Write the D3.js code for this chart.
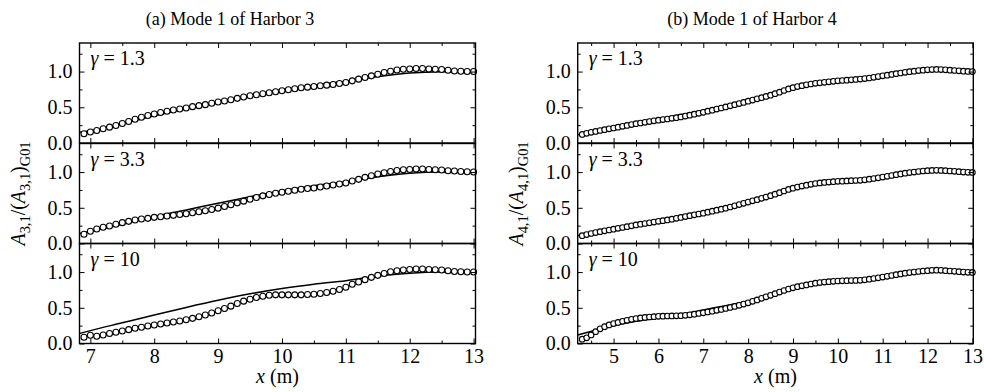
<!DOCTYPE html>
<html><head><meta charset="utf-8">
<script src="https://cdn.jsdelivr.net/npm/d3@7"></script>
<style>
body{margin:0;background:#fff}
svg{display:block}
text{font-family:"Liberation Serif","Times New Roman",serif;fill:#000}
</style>
</head><body><svg id="c" width="984" height="392"></svg>
<script>
// ---------- DATA ----------
const titles = ["(a) Mode 1 of Harbor 3", "(b) Mode 1 of Harbor 4"];
const gammaLabels = ["1.3", "3.3", "10"];
const yTicks = [0, 0.5, 1.0];
const yMinor = [0.25, 0.75, 1.25];
const xTicksA = [7, 8, 9, 10, 11, 12, 13];
const xTicksB = [5, 6, 7, 8, 9, 10, 11, 12, 13];

// measured points (circles), Harbor 3
const xA = [6.9,7.0,7.1,7.2,7.3,7.4,7.5,7.6,7.7,7.8,7.9,8.0,8.1,8.2,8.3,8.4,8.5,8.6,8.7,8.8,8.9,9.0,9.1,9.2,9.3,9.4,9.5,9.6,9.7,9.8,9.9,10.0,10.1,10.2,10.3,10.4,10.5,10.6,10.7,10.8,10.9,11.0,11.1,11.2,11.3,11.4,11.5,11.6,11.7,11.8,11.9,12.0,12.1,12.2,12.3,12.4,12.5,12.6,12.7,12.8,12.9,13.0];
const a1 = [0.13,0.153,0.176,0.199,0.222,0.245,0.273,0.301,0.333,0.361,0.384,0.407,0.426,0.444,0.463,0.477,0.491,0.509,0.523,0.537,0.556,0.574,0.588,0.606,0.625,0.644,0.662,0.676,0.69,0.704,0.718,0.731,0.745,0.759,0.773,0.782,0.792,0.801,0.81,0.819,0.833,0.847,0.87,0.894,0.917,0.94,0.963,0.986,1.005,1.023,1.032,1.037,1.042,1.042,1.037,1.032,1.028,1.019,1.009,1.005,1.0,1.0];
const a2 = [0.13,0.171,0.204,0.227,0.245,0.269,0.292,0.31,0.329,0.343,0.352,0.366,0.375,0.384,0.394,0.407,0.417,0.431,0.444,0.458,0.477,0.495,0.519,0.542,0.569,0.593,0.62,0.644,0.667,0.685,0.704,0.718,0.731,0.745,0.759,0.769,0.778,0.792,0.806,0.819,0.833,0.847,0.875,0.898,0.926,0.949,0.972,0.991,1.009,1.023,1.032,1.037,1.042,1.042,1.037,1.032,1.028,1.019,1.014,1.009,1.005,1.0];
const a3 = [0.088,0.116,0.102,0.12,0.139,0.157,0.176,0.194,0.213,0.227,0.245,0.259,0.273,0.287,0.301,0.315,0.333,0.352,0.375,0.398,0.426,0.458,0.491,0.523,0.56,0.593,0.62,0.644,0.662,0.676,0.681,0.681,0.681,0.681,0.681,0.685,0.69,0.699,0.713,0.731,0.755,0.787,0.829,0.861,0.894,0.926,0.954,0.981,1.005,1.019,1.028,1.037,1.042,1.042,1.037,1.032,1.028,1.019,1.009,1.005,1.0,1.0];

// measured points (circles), Harbor 4
const xB = [4.3,4.4,4.5,4.6,4.7,4.8,4.9,5.0,5.1,5.2,5.3,5.4,5.5,5.6,5.7,5.8,5.9,6.0,6.1,6.2,6.3,6.4,6.5,6.6,6.7,6.8,6.9,7.0,7.1,7.2,7.3,7.4,7.5,7.6,7.7,7.8,7.9,8.0,8.1,8.2,8.3,8.4,8.5,8.6,8.7,8.8,8.9,9.0,9.1,9.2,9.3,9.4,9.5,9.6,9.7,9.8,9.9,10.0,10.1,10.2,10.3,10.4,10.5,10.6,10.7,10.8,10.9,11.0,11.1,11.2,11.3,11.4,11.5,11.6,11.7,11.8,11.9,12.0,12.1,12.2,12.3,12.4,12.5,12.6,12.7,12.8,12.9,13.0];
const b1 = [0.12,0.135,0.15,0.162,0.175,0.187,0.198,0.21,0.222,0.234,0.246,0.258,0.27,0.28,0.29,0.30,0.31,0.32,0.328,0.336,0.345,0.355,0.365,0.377,0.39,0.403,0.416,0.43,0.445,0.46,0.475,0.49,0.505,0.52,0.536,0.552,0.568,0.585,0.601,0.618,0.635,0.652,0.67,0.69,0.712,0.735,0.757,0.775,0.79,0.803,0.815,0.826,0.835,0.843,0.85,0.856,0.863,0.87,0.875,0.88,0.885,0.89,0.895,0.902,0.91,0.92,0.93,0.94,0.95,0.96,0.97,0.98,0.99,0.998,1.006,1.014,1.02,1.025,1.028,1.03,1.028,1.025,1.02,1.015,1.01,1.005,1.002,1.0];
const b2 = [0.11,0.125,0.14,0.153,0.165,0.177,0.189,0.20,0.212,0.224,0.236,0.248,0.26,0.27,0.28,0.29,0.30,0.31,0.32,0.33,0.34,0.352,0.365,0.377,0.389,0.401,0.413,0.425,0.439,0.453,0.467,0.481,0.495,0.511,0.528,0.545,0.562,0.58,0.597,0.614,0.632,0.65,0.67,0.69,0.712,0.735,0.757,0.775,0.79,0.804,0.817,0.829,0.84,0.848,0.855,0.86,0.865,0.87,0.873,0.876,0.879,0.882,0.885,0.892,0.9,0.91,0.92,0.93,0.941,0.952,0.963,0.974,0.985,0.993,1.0,1.008,1.015,1.02,1.023,1.025,1.023,1.019,1.015,1.01,1.005,1.0,0.997,0.995];
const b3 = [0.06,0.08,0.12,0.165,0.205,0.235,0.26,0.28,0.295,0.31,0.325,0.338,0.35,0.358,0.365,0.371,0.376,0.38,0.383,0.385,0.386,0.388,0.39,0.395,0.401,0.41,0.42,0.43,0.441,0.453,0.465,0.477,0.49,0.504,0.519,0.535,0.552,0.57,0.59,0.61,0.632,0.654,0.675,0.697,0.72,0.742,0.763,0.78,0.795,0.808,0.82,0.833,0.845,0.853,0.86,0.866,0.871,0.875,0.877,0.879,0.881,0.883,0.885,0.892,0.9,0.91,0.92,0.93,0.941,0.952,0.963,0.974,0.985,0.993,1.0,1.008,1.015,1.02,1.024,1.026,1.024,1.02,1.015,1.01,1.005,1.0,0.997,0.995];

// theoretical curves (solid lines)
const lxA = [6.83,7.0,7.5,8.0,8.5,9.0,9.5,10.0,10.5,11.0,11.5,12.0,12.5,13.03];
const la1 = [0.15,0.17,0.27,0.38,0.48,0.575,0.665,0.745,0.81,0.865,0.93,0.98,0.998,1.0];
const la2 = [0.14,0.17,0.27,0.38,0.47,0.565,0.655,0.74,0.81,0.865,0.935,0.985,1.0,1.0];
const la3 = [0.14,0.18,0.29,0.40,0.505,0.605,0.695,0.77,0.83,0.88,0.945,0.985,1.0,1.0];
const lxB = [4.2,5.0,5.5,6.0,6.5,7.0,7.5,8.0,8.5,9.0,9.5,10.0,10.5,11.0,11.5,12.0,12.5,13.02];
const lb1 = [0.115,0.21,0.275,0.335,0.395,0.46,0.525,0.595,0.675,0.775,0.835,0.87,0.895,0.94,0.985,1.015,1.01,1.0];
const lb2 = [0.11,0.205,0.27,0.33,0.39,0.45,0.52,0.59,0.67,0.77,0.835,0.865,0.885,0.93,0.98,1.01,1.01,1.0];
const lb3 = [0.12,0.25,0.31,0.36,0.41,0.47,0.53,0.59,0.67,0.77,0.84,0.87,0.885,0.93,0.98,1.01,1.01,1.0];

// ---------- LAYOUT ----------
const svg = d3.select('#c');
const panelTops = [43, 143.5, 243.5];
const panelH = 100;
const SERIF = '"Liberation Serif","Times New Roman",serif';
const cols = [
  {x0:79.5, x1:475.5, dom:[6.83,13.03], ticks:xTicksA, minor:d3.range(7.5,13,1),
   px:xA, pts:[a1,a2,a3], lx:lxA, lines:[la1,la2,la3], r:3.0, harbor:"3",
   title:titles[0], titleX:230, ylabX:25},
  {x0:577.7, x1:973.3, dom:[4.2,13.02], ticks:xTicksB, minor:d3.range(4.5,13,1),
   px:xB, pts:[b1,b2,b3], lx:lxB, lines:[lb1,lb2,lb3], r:2.8, harbor:"4",
   title:titles[1], titleX:752, ylabX:523}
];

const FS = 20;

cols.forEach((c, ci) => {
  const x = d3.scaleLinear().domain(c.dom).range([c.x0, c.x1]);
  const clipId = 'clip' + ci;
  svg.append('clipPath').attr('id', clipId).append('rect')
    .attr('x', c.x0).attr('y', panelTops[0]).attr('width', c.x1 - c.x0).attr('height', panelH * 3 + 0.5);

  panelTops.forEach((top, pi) => {
    const y = d3.scaleLinear().domain([0, 1.4]).range([top + panelH, top]);
    const g = svg.append('g');

    // theoretical line
    const lineData = c.lx.map((v, i) => [v, c.lines[pi][i]]);
    g.append('path').datum(lineData)
      .attr('clip-path', `url(#${clipId})`)
      .attr('fill', 'none').attr('stroke', '#000').attr('stroke-width', 1.5)
      .attr('d', d3.line().x(d => x(d[0])).y(d => y(d[1])).curve(d3.curveMonotoneX));

    // measured circles
    const ptData = c.px.map((v, i) => [v, c.pts[pi][i]]);
    g.append('g').selectAll('circle').data(ptData).join('circle')
      .attr('cx', d => x(d[0])).attr('cy', d => y(d[1])).attr('r', c.r)
      .attr('fill', '#fff').attr('stroke', '#000').attr('stroke-width', 1.1);

    // axes (inward ticks)
    const mk = (axis, tx, ty) => {
      const a = g.append('g').attr('transform', `translate(${tx},${ty})`).call(axis);
      a.attr('font-family', SERIF);
      a.select('.domain').remove();
      a.selectAll('line').attr('stroke', '#000').attr('stroke-width', 1);
      return a;
    };
    const left = mk(d3.axisLeft(y).tickValues(yTicks).tickSize(-5).tickPadding(7).tickFormat(d3.format('.1f')), c.x0, 0);
    left.selectAll('text').style('font-size', FS + 'px').attr('fill', '#000');
    mk(d3.axisLeft(y).tickValues(yMinor).tickSize(-3).tickFormat(''), c.x0, 0);
    mk(d3.axisRight(y).tickValues(yTicks).tickSize(-5).tickFormat(''), c.x1, 0);
    mk(d3.axisRight(y).tickValues(yMinor).tickSize(-3).tickFormat(''), c.x1, 0);
    mk(d3.axisTop(x).tickValues(c.ticks).tickSize(-5).tickFormat(''), 0, top);
    mk(d3.axisTop(x).tickValues(c.minor).tickSize(-3).tickFormat(''), 0, top);
    const bot = mk(d3.axisBottom(x).tickValues(c.ticks).tickSize(-5).tickPadding(5)
      .tickFormat(pi === 2 ? d3.format('d') : ''), 0, top + panelH);
    bot.selectAll('text').style('font-size', FS + 'px').attr('fill', '#000');
    mk(d3.axisBottom(x).tickValues(c.minor).tickSize(-3).tickFormat(''), 0, top + panelH);

    // frame
    g.append('rect').attr('x', c.x0).attr('y', top).attr('width', c.x1 - c.x0).attr('height', panelH)
      .attr('fill', 'none').attr('stroke', '#000').attr('stroke-width', 1.4);

    // gamma label
    const t = g.append('text').attr('x', c.x0 + 11).attr('y', top + 22).style('font-size', FS + 'px');
    t.append('tspan').style('font-style', 'italic').text('γ');
    t.append('tspan').text(' = ' + gammaLabels[pi]);
  });

  // title
  svg.append('text').attr('x', c.titleX).attr('y', 25).attr('text-anchor', 'middle')
    .style('font-size', '18px').text(c.title);

  // x label
  const xl = svg.append('text').attr('x', (c.x0 + c.x1) / 2).attr('y', 383).attr('text-anchor', 'middle')
    .style('font-size', FS + 'px');
  xl.append('tspan').style('font-style', 'italic').text('x');
  xl.append('tspan').text(' (m)');

  // y label
  const yl = svg.append('text').attr('transform', `translate(${c.ylabX},${193.5}) rotate(-90)`)
    .attr('text-anchor', 'middle').style('font-size', FS + 'px');
  const sub = 0.72 * FS;
  yl.append('tspan').style('font-style', 'italic').text('A');
  yl.append('tspan').attr('dy', 5).style('font-size', sub + 'px').text(c.harbor + ',1');
  yl.append('tspan').attr('dy', -5).text('/(');
  yl.append('tspan').style('font-style', 'italic').text('A');
  yl.append('tspan').attr('dy', 5).style('font-size', sub + 'px').text(c.harbor + ',1');
  yl.append('tspan').attr('dy', -5).text(')');
  yl.append('tspan').attr('dy', 5).style('font-size', sub + 'px').text('G01');
});
</script>
</body></html>
